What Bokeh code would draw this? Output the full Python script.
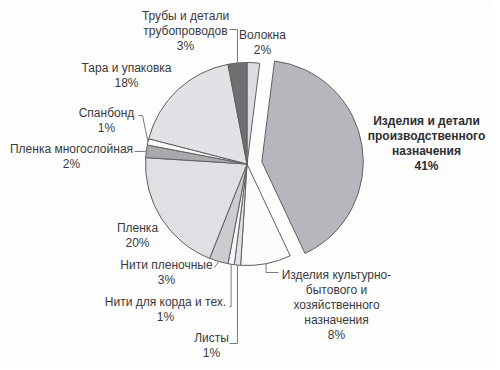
import math
from bokeh.plotting import figure
from bokeh.models import ColumnDataSource, Range1d
from bokeh.embed import file_html
from bokeh.resources import INLINE
from bokeh.core.properties import value

# ---- data (clockwise from 12 o'clock) ----
categories = [
    "Волокна",
    "Изделия и детали производственного назначения",
    "Изделия культурно-бытового и хозяйственного назначения",
    "Листы",
    "Нити для корда и тех.",
    "Нити пленочные",
    "Пленка",
    "Пленка многослойная",
    "Спанбонд",
    "Тара и упаковка",
    "Трубы и детали трубопроводов",
]
shares = [2, 41, 8, 1, 1, 3, 20, 2, 1, 18, 3]
label_lines = [
    ["Волокна"],
    ["Изделия и детали", "производственного", "назначения"],
    ["Изделия культурно-", "бытового и", "хозяйственного", "назначения"],
    ["Листы"],
    ["Нити для корда и тех."],
    ["Нити пленочные"],
    ["Пленка"],
    ["Пленка многослойная"],
    ["Спанбонд"],
    ["Тара и упаковка"],
    ["Трубы и детали", "трубопроводов"],
]

# ---- styles / layout ----
colors = ["#dcdde2", "#b6b7bd", "#fbfbfb", "#e2e2e6", "#f6f6f6", "#cbcbd0",
          "#dfdfe4", "#a9aaae", "#fafafa", "#e1e1e6", "#6f6f72"]
bold = [False, True, False, False, False, False, False, False, False, False, False]
explode = [0, 15, 0, 0, 0, 0, 0, 0, 0, 0, 0]
# label anchor (center x, first line y) in page pixels (y down)
label_pos = [(262, 34), (426, 120), (336, 274), (211, 337), (165, 301), (166, 264),
             (137, 227), (71, 148), (106, 112), (126, 67), (185, 15)]
line_step = 15
# leader start/bend points (page px); final point is slice edge
leaders = {
    10: ("hv", (229, 29)),
    2: ("hv", (278, 272)),
    3: ("hv", (229, 343)),
    4: ("hv", (229, 306)),
    5: ("d", (214, 267)),
    7: ("d", (134, 151)),
    8: ("hd", (138, 115)),
}

PAGE_H = 370
CX, CY, R = 246.5, 163.5, 101.5


def py(y):
    return PAGE_H - y


p = figure(width=492, height=362, x_range=Range1d(0, 492), y_range=Range1d(8, 370),
           output_backend="svg", toolbar_location=None, min_border=0,
           x_axis_type=None, y_axis_type=None)
p.grid.visible = False
p.outline_line_color = None
p.background_fill_color = "#fdfdfd"
p.border_fill_color = "#fdfdfd"

total = float(sum(shares))
starts, ends, xs, ys, mids = [], [], [], [], []
acc = 0.0
for i, s in enumerate(shares):
    t1 = acc / total * 360.0
    acc += s
    t2 = acc / total * 360.0
    mid = (t1 + t2) / 2.0
    mids.append(mid)
    starts.append(math.radians(90 - t2))
    ends.append(math.radians(90 - t1))
    xs.append(CX + explode[i] * math.sin(math.radians(mid)))
    ys.append(py(CY - explode[i] * math.cos(math.radians(mid))))

src = ColumnDataSource(dict(x=xs, y=ys, start=starts, end=ends, color=colors, cat=categories))
p.wedge(x="x", y="y", radius=R, start_angle="start", end_angle="end", direction="anticlock",
        fill_color="color", line_color="#606064", line_width=1, source=src)

# leaders
for i, (kind, (sx, sy)) in leaders.items():
    m = math.radians(mids[i])
    ex = CX + R * math.sin(m)
    ey = CY - R * math.cos(m)
    if kind == "hv":
        pts = [(sx, sy), (ex, sy), (ex, ey)]
    elif kind == "hd":
        pts = [(sx, sy), (sx + 4, sy), (ex, ey)]
    else:
        pts = [(sx, sy), (ex, ey)]
    p.line([a for a, _ in pts], [py(b) for _, b in pts], line_color="#7a7a7a", line_width=1)

# labels
for weight in (False, True):
    tx, ty, tt = [], [], []
    for i, lines in enumerate(label_lines):
        if bold[i] != weight:
            continue
        lx, ly = label_pos[i]
        allines = lines + ["%d%%" % shares[i]]
        for k, ln in enumerate(allines):
            tx.append(lx)
            ty.append(py(ly + k * line_step))
            tt.append(ln)
    p.text(x=tx, y=ty, text=tt, text_align="center", text_baseline="middle",
           text_font=value("Liberation Sans"), text_font_size="12px",
           text_font_style="bold" if weight else "normal",
           text_color="#2e2e30" if weight else "#3a3a3c")

open("out.html", "w").write(file_html(p, INLINE))
